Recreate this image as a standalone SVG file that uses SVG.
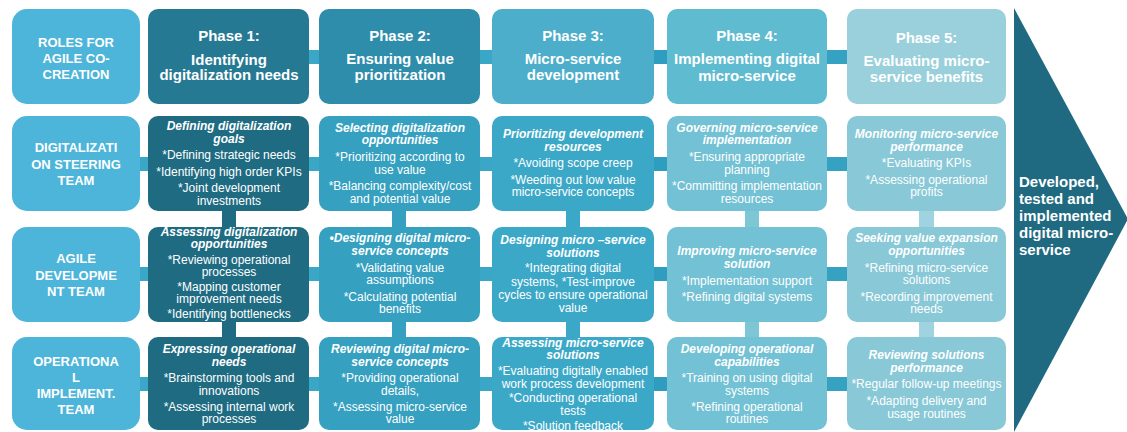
<svg xmlns="http://www.w3.org/2000/svg" width="1127" height="432" viewBox="0 0 1127 432">
<style>
text{font-family:"Liberation Sans",Arial,sans-serif;fill:#fff;text-anchor:middle}
.hd{font-size:15px;font-weight:bold}
.rl{font-size:13px;font-weight:bold}
.t{font-size:12px;font-weight:bold;font-style:italic}
.i{font-size:12px}
.ar{font-size:15px;font-weight:bold;text-anchor:start}
.role{fill:#4db5d9}
.h1{fill:#267993}.c1{fill:#1e6b82}
.h2{fill:#2e8dab}.c2{fill:#35a0bf}
.h3{fill:#4caeca}.c3{fill:#3ca8c8}
.h4{fill:#5fbbd0}.c4{fill:#73c1d4}
.h5{fill:#99d0db}.c5{fill:#88c8d7}
</style>

<g id="connectors">
  <g fill="#3aa7c6">
    <rect x="309" y="50" width="10" height="14"/>
    <rect x="480" y="50" width="12" height="14"/>
    <rect x="140" y="157" width="8" height="14"/>
    <rect x="309" y="157" width="10" height="14"/>
    <rect x="480" y="157" width="12" height="14"/>
    <rect x="140" y="267" width="8" height="14"/>
    <rect x="309" y="267" width="10" height="14"/>
    <rect x="480" y="267" width="12" height="14"/>
    <rect x="140" y="377" width="8" height="14"/>
    <rect x="309" y="377" width="10" height="14"/>
    <rect x="480" y="377" width="12" height="14"/>
  </g>
  <g fill="#2f9dbf">
    <rect x="654" y="50" width="13" height="14"/>
    <rect x="654" y="157" width="13" height="14"/>
    <rect x="654" y="267" width="13" height="14"/>
    <rect x="654" y="377" width="13" height="14"/>
  </g>
  <g fill="#35a2c2">
    <rect x="827" y="50" width="20" height="14"/>
    <rect x="827" y="157" width="20" height="14"/>
    <rect x="827" y="267" width="20" height="14"/>
    <rect x="827" y="377" width="20" height="14"/>
  </g>
  <rect x="222" y="211" width="14" height="16" fill="#1e6b82"/>
  <rect x="222" y="322" width="14" height="15" fill="#1e6b82"/>
  <rect x="392" y="211" width="14" height="16" fill="#35a0bf"/>
  <rect x="392" y="322" width="14" height="15" fill="#35a0bf"/>
  <rect x="566" y="211" width="14" height="16" fill="#3ca8c8"/>
  <rect x="566" y="322" width="14" height="15" fill="#3ca8c8"/>
  <rect x="745" y="211" width="14" height="16" fill="#7dc6d6"/>
  <rect x="745" y="322" width="14" height="15" fill="#7dc6d6"/>
  <rect x="919" y="211" width="15" height="16" fill="#9fd3df"/>
  <rect x="919" y="322" width="15" height="15" fill="#9fd3df"/>
</g>

<g id="roles-header">
  <rect class="role" x="12" y="9" width="128" height="95" rx="15"/>
  <text class="rl" x="76" y="47">ROLES FOR</text>
  <text class="rl" x="76" y="63">AGILE CO-</text>
  <text class="rl" x="76" y="79">CREATION</text>
</g>
<g id="role-steering">
  <rect class="role" x="12" y="116" width="128" height="95" rx="15"/>
  <text class="rl" x="76" y="152">DIGITALIZATI</text>
  <text class="rl" x="76" y="168.5">ON STEERING</text>
  <text class="rl" x="76" y="185">TEAM</text>
</g>
<g id="role-agile">
  <rect class="role" x="12" y="227" width="128" height="95" rx="15"/>
  <text class="rl" x="76" y="263">AGILE</text>
  <text class="rl" x="76" y="280">DEVELOPME</text>
  <text class="rl" x="76" y="296">NT TEAM</text>
</g>
<g id="role-operational">
  <rect class="role" x="12" y="337" width="128" height="93" rx="15"/>
  <text class="rl" x="76" y="366">OPERATIONA</text>
  <text class="rl" x="76" y="382">L</text>
  <text class="rl" x="76" y="398">IMPLEMENT.</text>
  <text class="rl" x="76" y="414">TEAM</text>
</g>

<g id="phase1-header">
  <rect class="h1" x="148" y="9" width="161" height="95" rx="10"/>
  <text class="hd" x="229" y="41">Phase 1:</text>
  <text class="hd" x="229" y="65">Identifying</text>
  <text class="hd" x="229" y="80">digitalization needs</text>
</g>
<g id="p1-steering">
  <rect class="c1" x="148" y="116" width="161" height="95" rx="10"/>
  <text class="t" x="229" y="130">Defining digitalization</text>
  <text class="t" x="229" y="142.5">goals</text>
  <text class="i" x="229" y="159">*Defining strategic needs</text>
  <text class="i" x="229" y="176">*Identifying high order KPIs</text>
  <text class="i" x="229" y="192">*Joint development</text>
  <text class="i" x="229" y="204.5">investments</text>
</g>
<g id="p1-agile">
  <rect class="c1" x="148" y="227" width="161" height="95" rx="10"/>
  <text class="t" x="229" y="236">Assessing digitalization</text>
  <text class="t" x="229" y="248">opportunities</text>
  <text class="i" x="229" y="264">*Reviewing operational</text>
  <text class="i" x="229" y="276">processes</text>
  <text class="i" x="229" y="290.5">*Mapping customer</text>
  <text class="i" x="229" y="303">improvement needs</text>
  <text class="i" x="229" y="318">*Identifying bottlenecks</text>
</g>
<g id="p1-operational">
  <rect class="c1" x="148" y="337" width="161" height="93" rx="10"/>
  <text class="t" x="229" y="353">Expressing operational</text>
  <text class="t" x="229" y="366">needs</text>
  <text class="i" x="229" y="382">*Brainstorming tools and</text>
  <text class="i" x="229" y="395">innovations</text>
  <text class="i" x="229" y="411">*Assessing internal work</text>
  <text class="i" x="229" y="423">processes</text>
</g>

<g id="phase2-header">
  <rect class="h2" x="319" y="9" width="161" height="95" rx="10"/>
  <text class="hd" x="400" y="41">Phase 2:</text>
  <text class="hd" x="400" y="64">Ensuring value</text>
  <text class="hd" x="400" y="80">prioritization</text>
</g>
<g id="p2-steering">
  <rect class="c2" x="319" y="116" width="161" height="95" rx="10"/>
  <text class="t" x="400" y="132">Selecting digitalization</text>
  <text class="t" x="400" y="144">opportunities</text>
  <text class="i" x="400" y="161">*Prioritizing according to</text>
  <text class="i" x="400" y="174">use value</text>
  <text class="i" x="400" y="190">*Balancing complexity/cost</text>
  <text class="i" x="400" y="203">and potential value</text>
</g>
<g id="p2-agile">
  <rect class="c2" x="319" y="227" width="161" height="95" rx="10"/>
  <text class="t" x="400" y="242">•Designing digital micro-</text>
  <text class="t" x="400" y="255">service concepts</text>
  <text class="i" x="400" y="272">*Validating value</text>
  <text class="i" x="400" y="284">assumptions</text>
  <text class="i" x="400" y="301">*Calculating potential</text>
  <text class="i" x="400" y="313">benefits</text>
</g>
<g id="p2-operational">
  <rect class="c2" x="319" y="337" width="161" height="93" rx="10"/>
  <text class="t" x="400" y="353">Reviewing digital micro-</text>
  <text class="t" x="400" y="366">service concepts</text>
  <text class="i" x="400" y="382">*Providing operational</text>
  <text class="i" x="400" y="395">details,</text>
  <text class="i" x="400" y="411">*Assessing micro-service</text>
  <text class="i" x="400" y="423">value</text>
</g>

<g id="phase3-header">
  <rect class="h3" x="492" y="9" width="162" height="95" rx="10"/>
  <text class="hd" x="573" y="41">Phase 3:</text>
  <text class="hd" x="573" y="64">Micro-service</text>
  <text class="hd" x="573" y="80">development</text>
</g>
<g id="p3-steering">
  <rect class="c3" x="492" y="116" width="162" height="95" rx="10"/>
  <text class="t" x="573" y="138">Prioritizing development</text>
  <text class="t" x="573" y="151">resources</text>
  <text class="i" x="573" y="167">*Avoiding scope creep</text>
  <text class="i" x="573" y="184">*Weeding out low value</text>
  <text class="i" x="573" y="196">micro-service concepts</text>
</g>
<g id="p3-agile">
  <rect class="c3" x="492" y="227" width="162" height="95" rx="10"/>
  <text class="t" x="573" y="244">Designing micro –service</text>
  <text class="t" x="573" y="257">solutions</text>
  <text class="i" x="573" y="272">*Integrating digital</text>
  <text class="i" x="573" y="286">systems, *Test-improve</text>
  <text class="i" x="573" y="299">cycles to ensure operational</text>
  <text class="i" x="573" y="312">value</text>
</g>
<g id="p3-operational">
  <rect class="c3" x="492" y="337" width="162" height="93" rx="10"/>
  <text class="t" x="573" y="347">Assessing micro-service</text>
  <text class="t" x="573" y="359">solutions</text>
  <text class="i" x="573" y="375">*Evaluating digitally enabled</text>
  <text class="i" x="573" y="387.5">work process development</text>
  <text class="i" x="573" y="402">*Conducting operational</text>
  <text class="i" x="573" y="415">tests</text>
  <text class="i" x="573" y="430">*Solution feedback</text>
</g>

<g id="phase4-header">
  <rect class="h4" x="667" y="9" width="160" height="95" rx="10"/>
  <text class="hd" x="747" y="41">Phase 4:</text>
  <text class="hd" x="747" y="64">Implementing digital</text>
  <text class="hd" x="747" y="81">micro-service</text>
</g>
<g id="p4-steering">
  <rect class="c4" x="667" y="116" width="160" height="95" rx="10"/>
  <text class="t" x="747" y="132">Governing micro-service</text>
  <text class="t" x="747" y="144">implementation</text>
  <text class="i" x="747" y="161">*Ensuring appropriate</text>
  <text class="i" x="747" y="174">planning</text>
  <text class="i" x="747" y="190">*Committing implementation</text>
  <text class="i" x="747" y="203">resources</text>
</g>
<g id="p4-agile">
  <rect class="c4" x="667" y="227" width="160" height="95" rx="10"/>
  <text class="t" x="747" y="255">Improving micro-service</text>
  <text class="t" x="747" y="268">solution</text>
  <text class="i" x="747" y="285">*Implementation support</text>
  <text class="i" x="747" y="301">*Refining digital systems</text>
</g>
<g id="p4-operational">
  <rect class="c4" x="667" y="337" width="160" height="93" rx="10"/>
  <text class="t" x="747" y="353">Developing operational</text>
  <text class="t" x="747" y="366">capabilities</text>
  <text class="i" x="747" y="382">*Training on using digital</text>
  <text class="i" x="747" y="395">systems</text>
  <text class="i" x="747" y="411">*Refining operational</text>
  <text class="i" x="747" y="423">routines</text>
</g>

<g id="phase5-header">
  <rect class="h5" x="847" y="9" width="159" height="95" rx="10"/>
  <text class="hd" x="926.5" y="43">Phase 5:</text>
  <text class="hd" x="926.5" y="66">Evaluating micro-</text>
  <text class="hd" x="926.5" y="82">service benefits</text>
</g>
<g id="p5-steering">
  <rect class="c5" x="847" y="116" width="159" height="95" rx="10"/>
  <text class="t" x="926.5" y="138">Monitoring micro-service</text>
  <text class="t" x="926.5" y="151">performance</text>
  <text class="i" x="926.5" y="167">*Evaluating KPIs</text>
  <text class="i" x="926.5" y="184">*Assessing operational</text>
  <text class="i" x="926.5" y="196">profits</text>
</g>
<g id="p5-agile">
  <rect class="c5" x="847" y="227" width="159" height="95" rx="10"/>
  <text class="t" x="926.5" y="242">Seeking value expansion</text>
  <text class="t" x="926.5" y="255">opportunities</text>
  <text class="i" x="926.5" y="272">*Refining micro-service</text>
  <text class="i" x="926.5" y="284">solutions</text>
  <text class="i" x="926.5" y="301">*Recording improvement</text>
  <text class="i" x="926.5" y="313">needs</text>
</g>
<g id="p5-operational">
  <rect class="c5" x="847" y="337" width="159" height="93" rx="10"/>
  <text class="t" x="926.5" y="359">Reviewing solutions</text>
  <text class="t" x="926.5" y="372">performance</text>
  <text class="i" x="926.5" y="388">*Regular follow-up meetings</text>
  <text class="i" x="926.5" y="405">*Adapting delivery and</text>
  <text class="i" x="926.5" y="418">usage routines</text>
</g>

<g id="outcome">
  <polygon points="1014,8 1128,219 1014,432" fill="#1f6a80"/>
  <text class="ar" x="1019" y="187">Developed,</text>
  <text class="ar" x="1019" y="204">tested and</text>
  <text class="ar" x="1019" y="221">implemented</text>
  <text class="ar" x="1019" y="238">digital micro-</text>
  <text class="ar" x="1019" y="255">service</text>
</g>
</svg>
